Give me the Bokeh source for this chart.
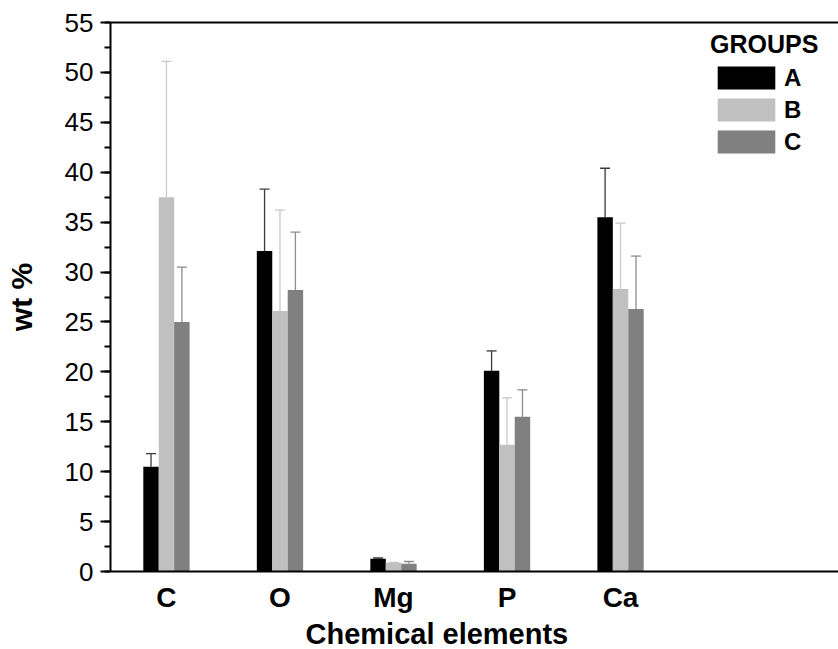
from bokeh.plotting import figure
from bokeh.models import (ColumnDataSource, Range1d, FixedTicker, SingleIntervalTicker,
                          LinearAxis, Whisker, TeeHead, Legend, LegendItem, Title)
from bokeh.embed import file_html
from bokeh.resources import INLINE

# ---- data ----
elements = ["C", "O", "Mg", "P", "Ca"]
groups = ["A", "B", "C"]
mean_A = [10.5, 32.1, 1.27, 20.1, 35.5]
mean_B = [37.5, 26.1, 0.87, 12.7, 28.3]
mean_C = [25.0, 28.2, 0.77, 15.5, 26.3]
err_A = [1.3, 6.2, 0.08, 2.0, 4.9]
err_B = [13.6, 10.1, 0.05, 4.7, 6.6]
err_C = [5.5, 5.8, 0.23, 2.7, 5.3]

bar_colors = ["#000000", "#c0c0c0", "#808080"]
err_colors = ["#3a3a3a", "#c8c8c8", "#8c8c8c"]
offsets = [-0.136, 0.0, 0.136]
bar_w = 0.136
FONT = "Liberation Sans"

p = figure(width=838, height=649, output_backend="svg", toolbar_location=None,
           x_range=Range1d(0.507, 6.92), y_range=Range1d(0, 55),
           min_border_left=110, min_border_right=0, min_border_top=22,
           min_border_bottom=77)
p.xgrid.visible = False
p.ygrid.visible = False
p.outline_line_color = None
p.background_fill_color = "white"

pos = [i + 1 for i in range(len(elements))]
means = [mean_A, mean_B, mean_C]
errs = [err_A, err_B, err_C]
items = []
for g, m, e, col, ecol, off in zip(groups, means, errs, bar_colors, err_colors, offsets):
    src = ColumnDataSource(dict(
        x=[v + off for v in pos], top=m,
        upper=[a + b for a, b in zip(m, e)]))
    r = p.vbar(x="x", top="top", bottom=0, width=bar_w, source=src,
               fill_color=col, line_color=None)
    w = Whisker(base="x", lower="top", upper="upper", source=src,
                line_color=ecol, line_width=1.3,
                upper_head=TeeHead(size=10, line_color=ecol, line_width=1.3),
                lower_head=None)
    p.add_layout(w)
    items.append(LegendItem(label=g, renderers=[r]))

# x axis
xa = p.xaxis[0]
xa.ticker = FixedTicker(ticks=pos)
xa.major_label_overrides = {i + 1: el for i, el in enumerate(elements)}
xa.major_tick_line_color = None
xa.minor_tick_line_color = None
xa.axis_line_width = 2
xa.major_label_text_font = FONT
xa.major_label_text_font_style = "bold"
xa.major_label_text_font_size = "28px"
xa.major_label_text_color = "black"
xa.major_label_standoff = 4

# y axis
ya = p.yaxis[0]
ya.ticker = SingleIntervalTicker(interval=5, num_minor_ticks=2)
ya.axis_line_width = 2
ya.major_tick_line_width = 2
ya.minor_tick_line_width = 2
ya.major_tick_out = 10
ya.major_tick_in = 0
ya.minor_tick_out = 6
ya.minor_tick_in = 0
ya.major_label_text_font = FONT
ya.major_label_text_font_size = "26px"
ya.major_label_text_color = "black"
ya.major_label_standoff = 7
ya.axis_label = "wt %"
ya.axis_label_text_font = FONT
ya.axis_label_text_font_style = "bold"
ya.axis_label_text_font_size = "30px"
ya.axis_label_text_color = "black"
ya.axis_label_standoff = 24

# top frame line
top = LinearAxis(major_tick_line_color=None, minor_tick_line_color=None,
                 major_label_text_font_size="0px", axis_line_width=2,
                 major_label_standoff=0, ticker=FixedTicker(ticks=[]))
p.add_layout(top, "above")

# x axis title
p.add_layout(Title(text="Chemical elements", align="left", offset=195,
                   text_font=FONT, text_font_style="bold", text_font_size="29px",
                   text_color="black", standoff=0), "below")

leg = Legend(items=items, title="GROUPS", location=(600, 415),
             glyph_width=72, glyph_height=29, spacing=3, padding=0, margin=0,
             label_standoff=2, title_standoff=4,
             border_line_color=None, background_fill_alpha=0)
leg.title_text_font = FONT
leg.title_text_font_style = "bold"
leg.title_text_font_size = "25px"
leg.title_text_color = "black"
leg.label_text_font = FONT
leg.label_text_font_style = "bold"
leg.label_text_font_size = "24px"
leg.label_text_color = "black"
p.add_layout(leg, "center")

open("out.html", "w").write(file_html(p, INLINE))
